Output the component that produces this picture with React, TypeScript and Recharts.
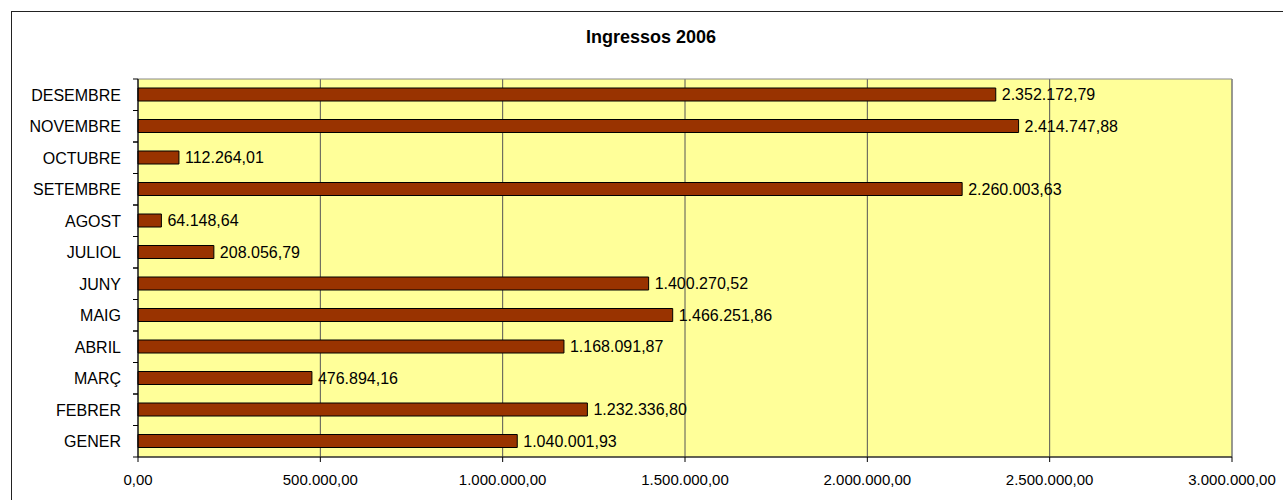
import React from "react";
import {
  BarChart,
  Bar,
  XAxis,
  YAxis,
  CartesianGrid,
  LabelList,
  ReferenceArea,
} from "recharts";

const months = [
  "GENER",
  "FEBRER",
  "MARÇ",
  "ABRIL",
  "MAIG",
  "JUNY",
  "JULIOL",
  "AGOST",
  "SETEMBRE",
  "OCTUBRE",
  "NOVEMBRE",
  "DESEMBRE",
];

const ingressos = [
  1040001.93,
  1232336.8,
  476894.16,
  1168091.87,
  1466251.86,
  1400270.52,
  208056.79,
  64148.64,
  2260003.63,
  112264.01,
  2414747.88,
  2352172.79,
];

const xTicks = [0, 500000, 1000000, 1500000, 2000000, 2500000, 3000000];

const title = "Ingressos 2006";

const data = months.map((m, i) => ({ mes: m, valor: ingressos[i] }));

const fmt = (v: any) => {
  const n = Number(v);
  const [int, dec] = n.toFixed(2).split(".");
  return int.replace(/\B(?=(\d{3})+(?!\d))/g, ".") + "," + dec;
};

const FONT = "'Liberation Sans', Arial, sans-serif";
const W = 1283;
const H = 500;
const M_TOP = 79;
const X_AXIS_H = 43;
const PLOT_H = H - M_TOP - X_AXIS_H;
const BAND = PLOT_H / months.length;

const YTick = (props: any) => {
  const { x, y, payload } = props;
  return (
    <g>
      <line x1={x + 12} x2={x + 17} y1={y - BAND / 2} y2={y - BAND / 2} stroke="#000" />
      <line x1={x + 12} x2={x + 17} y1={y + BAND / 2} y2={y + BAND / 2} stroke="#000" />
      <text
        x={x}
        y={y}
        dy="0.36em"
        textAnchor="end"
        fontSize={16}
        fontFamily={FONT}
        fill="#000"
      >
        {payload.value}
      </text>
    </g>
  );
};

export default function App() {
  return (
    <div
      style={{
        position: "fixed",
        left: 0,
        top: 0,
        width: W,
        height: H,
        overflow: "hidden",
        background: "#fff",
      }}
    >
      <div
        style={{
          position: "absolute",
          left: 11,
          top: 11,
          width: 1300,
          height: 520,
          border: "1px solid #222",
        }}
      />
      <div
        style={{
          position: "absolute",
          left: 351,
          width: 600,
          top: 27,
          textAlign: "center",
          fontFamily: FONT,
          fontWeight: "bold",
          fontSize: 18,
          lineHeight: "20px",
          color: "#000",
        }}
      >
        {title}
      </div>
      <div style={{ position: "absolute", left: 0, top: 0 }}>
        <BarChart
          width={W}
          height={H}
          data={data}
          layout="vertical"
          margin={{ top: M_TOP, right: 51, bottom: 0, left: 0 }}
          barSize={13}
        >
          <CartesianGrid
            horizontal={false}
            vertical={true}
            stroke="#555"
            fill="#FFFF99"
            fillOpacity={1}
          />
          <ReferenceArea
            x1={0}
            x2={3000000}
            fill="none"
            stroke="#888"
            ifOverflow="visible"
          />
          <XAxis
            type="number"
            domain={[0, 3000000]}
            ticks={xTicks}
            interval={0}
            tickFormatter={fmt}
            height={X_AXIS_H}
            tickSize={5}
            tickMargin={12}
            stroke="#000"
            tick={{ fill: "#000", fontSize: 15, fontFamily: FONT }}
          />
          <YAxis
            type="category"
            dataKey="mes"
            reversed
            width={138}
            interval={0}
            tickLine={false}
            tickSize={0}
            tickMargin={17}
            stroke="#000"
            tick={<YTick />}
          />
          <Bar
            dataKey="valor"
            fill="#993300"
            stroke="#000"
            strokeWidth={1}
            isAnimationActive={false}
          >
            <LabelList
              dataKey="valor"
              position="right"
              offset={6}
              formatter={fmt}
              fill="#000"
              fontSize={16}
              fontFamily={FONT}
            />
          </Bar>
        </BarChart>
      </div>
    </div>
  );
}
